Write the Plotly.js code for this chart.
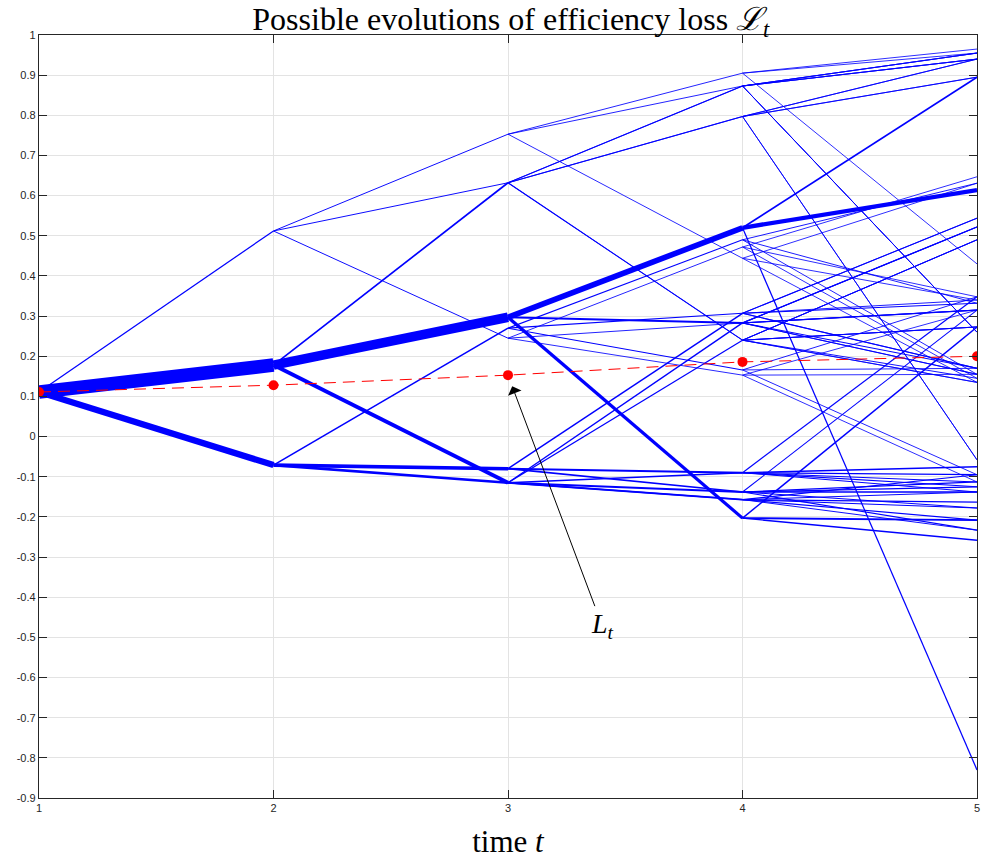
<!DOCTYPE html>
<html><head><meta charset="utf-8">
<script src="https://cdn.plot.ly/plotly-3.0.1.min.js"></script>
<style>html,body{margin:0;padding:0;background:#fff}</style>
</head><body><div id="chart" style="width:982px;height:863px"></div>
<script>
// ---- scenario tree data (time step, loss value, parent node, path probability) ----
const nodeTime = [
  1,
  2,2,2,
  3,3,3,3,3,3,3,3,3,
  4,4,4,4,4,4,4,4,4,4,4,4,4,4,4,4,4,4,4,4,4,4,4,4,4,4,4,
  5,5,5, 5,5,5, 5,5,5, 5,5,5, 5,5,5, 5,5,5, 5,5,5, 5,5,5, 5,5,5,
  5,5,5, 5,5,5, 5,5,5, 5,5,5, 5,5,5, 5,5,5, 5,5,5, 5,5,5, 5,5,5,
  5,5,5, 5,5,5, 5,5,5, 5,5,5, 5,5,5, 5,5,5, 5,5,5, 5,5,5, 5,5,5
];
const nodeValue = [
  0.111,
  0.512, 0.178, -0.071,
  0.753, 0.632, 0.245, 0.632, 0.297, -0.115, 0.270, -0.080, -0.115,
  0.905, 0.873, 0.444, 0.873, 0.797, 0.240, 0.873, 0.797, 0.240,
  0.520, 0.283, -0.203, 0.472, 0.283, 0.153, 0.490, 0.307, 0.166,
  0.307, -0.090, -0.138, 0.283, -0.138, -0.157, 0.240, -0.090, -0.157,
  0.965, 0.955, 0.430,   0.955, 0.940, 0.260,   0.955, 0.940, 0.260,
  0.955, 0.940, 0.260,   0.940, 0.895, -0.058,  0.940, 0.895, -0.058,
  0.631, 0.340, 0.135,   0.895, 0.614, -0.830,  0.647, 0.348, 0.145,
  0.631, 0.332, 0.155,   0.490, 0.273, 0.135,   0.490, 0.273, 0.135,
  0.522, 0.315, 0.155,   0.522, 0.315, 0.155,   0.522, 0.315, 0.170,
  0.544, 0.340, 0.170,   0.544, 0.332, 0.170,   0.490, 0.273, 0.145,
  0.315, 0.155, -0.113,  0.348, 0.170, -0.095,  0.273, -0.208, -0.258,
  0.348, -0.075, -0.125, 0.315, -0.113, -0.178, -0.125, -0.138, -0.233,
  -0.095, -0.163, -0.208, -0.113, -0.095, -0.138, -0.138, -0.178, -0.233
];
const nodeParent = [
  -1,
  0,0,0,
  1,1,1,2,2,2,3,3,3,
  4,4,4,5,5,5,7,7,7,8,8,8,6,6,6,10,10,10,11,11,11,9,9,9,12,12,12,
  13,13,13, 14,14,14, 16,16,16, 19,19,19, 17,17,17, 20,20,20,
  15,15,15, 22,22,22, 25,25,25, 28,28,28, 18,18,18, 21,21,21,
  23,23,23, 26,26,26, 34,34,34, 29,29,29, 31,31,31, 37,37,37,
  27,27,27, 30,30,30, 24,24,24, 32,32,32, 33,33,33, 35,35,35,
  36,36,36, 38,38,38, 39,39,39
];
const nodeProb = [
  1,
  0.02, 0.58, 0.25,
  0.007, 0.007, 0.007, 0.04, 0.40, 0.14, 0.035, 0.13, 0.085,
  0.003, 0.003, 0.002, 0.003, 0.003, 0.002, 0.015, 0.015, 0.01,
  0.22, 0.05, 0.11, 0.003, 0.003, 0.002, 0.012, 0.012, 0.01,
  0.03, 0.06, 0.04, 0.03, 0.06, 0.05, 0.02, 0.04, 0.025,
  0.001, 0.001, 0.001,  0.001, 0.001, 0.001,  0.001, 0.001, 0.001,
  0.006, 0.005, 0.004,  0.001, 0.001, 0.001,  0.006, 0.005, 0.004,
  0.001, 0.001, 0.001,  0.04, 0.16, 0.02,     0.001, 0.001, 0.001,
  0.005, 0.004, 0.003,  0.001, 0.001, 0.001,  0.004, 0.003, 0.003,
  0.02, 0.02, 0.01,     0.001, 0.001, 0.001,  0.01, 0.01, 0.01,
  0.005, 0.004, 0.003,  0.01, 0.01, 0.01,     0.008, 0.006, 0.006,
  0.001, 0.001, 0.001,  0.004, 0.003, 0.003,  0.03, 0.05, 0.03,
  0.02, 0.025, 0.015,   0.01, 0.02, 0.01,     0.02, 0.025, 0.015,
  0.015, 0.02, 0.015,   0.01, 0.02, 0.01,     0.008, 0.01, 0.007
];
// expected loss L_t
const timeSteps = [1, 2, 3, 4, 5];
const lossMean = [0.111, 0.128, 0.153, 0.186, 0.200];
const yTicks = [-0.9,-0.8,-0.7,-0.6,-0.5,-0.4,-0.3,-0.2,-0.1,0,0.1,0.2,0.3,0.4,0.5,0.6,0.7,0.8,0.9,1];

const traces = [];
for (let i = 0; i < nodeTime.length; i++) {
  const p = nodeParent[i];
  if (p < 0) continue;
  traces.push({
    type: 'scatter', mode: 'lines',
    x: [nodeTime[p], nodeTime[i]],
    y: [nodeValue[p], nodeValue[i]],
    line: {color: '#0000ff', width: 0.8 + 22 * nodeProb[i]},
    hoverinfo: 'skip', showlegend: false
  });
}
traces.push({
  type: 'scatter', mode: 'lines+markers',
  x: timeSteps, y: lossMean,
  line: {color: '#ff0000', width: 1, dash: '12px,7px'},
  marker: {color: '#ff0000', size: 10},
  showlegend: false
});

const axisCommon = {
  showline: true, linecolor: '#262626', linewidth: 1.2, mirror: 'ticks',
  ticks: 'inside', ticklen: 8, tickcolor: '#262626', tickwidth: 1,
  showgrid: true, gridcolor: '#e3e3e3', gridwidth: 1, zeroline: false,
  tickfont: {family: 'Liberation Sans, Arial, sans-serif', size: 11, color: '#262626'}
};

const layout = {
  width: 982, height: 863,
  margin: {l: 39, r: 5, t: 35, b: 65},
  paper_bgcolor: '#ffffff', plot_bgcolor: '#ffffff',
  showlegend: false,
  title: {
    text: 'Possible evolutions of efficiency loss <i>ℒ</i><sub><i>t</i></sub>',
    font: {family: 'Liberation Serif, DejaVu Serif, serif', size: 32, color: '#000'},
    x: 0.503, xanchor: 'center', y: 0.978, yanchor: 'middle', yref: 'container', xref: 'paper'
  },
  xaxis: Object.assign({}, axisCommon, {
    range: [1, 5], tickvals: timeSteps, ticktext: timeSteps.map(String),
    title: {text: 'time <i>t</i>', font: {family: 'Liberation Serif, DejaVu Serif, serif', size: 31, color: '#000'}, standoff: 16}
  }),
  yaxis: Object.assign({}, axisCommon, {
    range: [-0.9, 1], tickvals: yTicks, ticktext: yTicks.map(v => String(Math.round(v*10)/10))
  }),
  annotations: [{
    x: 3, y: lossMean[2], xref: 'x', yref: 'y',
    text: '<i>L</i><sub><i>t</i></sub>',
    font: {family: 'Liberation Serif, DejaVu Serif, serif', size: 28, color: '#000'},
    showarrow: true, arrowhead: 1, arrowsize: 2.4, arrowwidth: 1, arrowcolor: '#000',
    ax: 94, ay: 250, standoff: 12
  }]
};

Plotly.newPlot('chart', traces, layout, {displayModeBar: false, staticPlot: true});
</script>
</body></html>
